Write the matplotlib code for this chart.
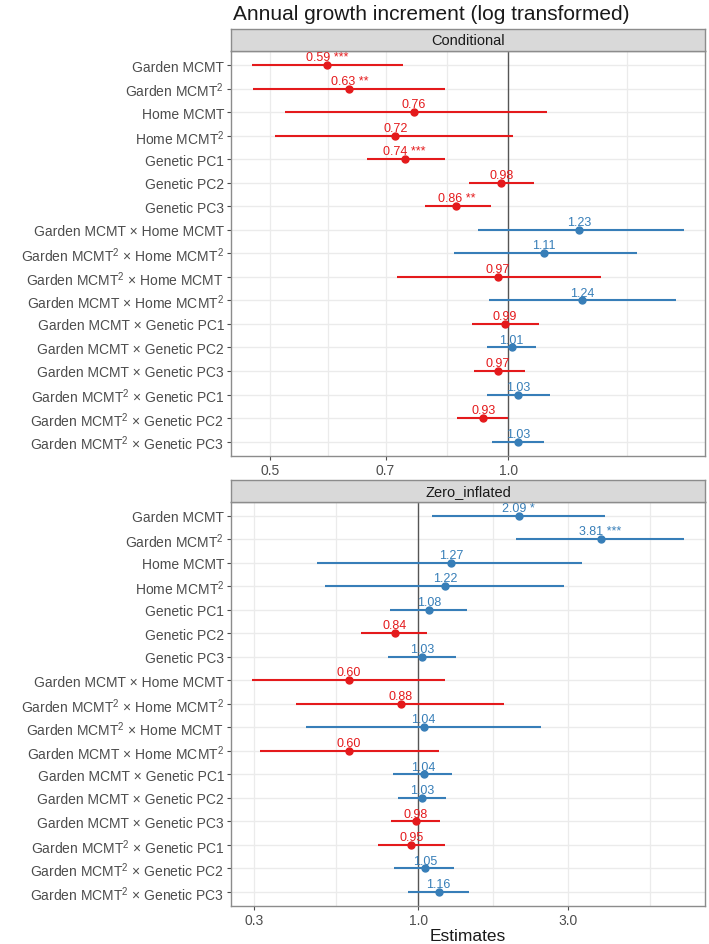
import matplotlib
matplotlib.use("Agg")
import matplotlib.pyplot as plt
from matplotlib.ticker import NullLocator

plt.rcParams['font.family'] = ['Liberation Sans', 'DejaVu Sans']
plt.rcParams['mathtext.fontset'] = 'custom'
plt.rcParams['mathtext.rm'] = 'Liberation Sans'
plt.rcParams['mathtext.it'] = 'Liberation Sans:italic'
plt.rcParams['mathtext.bf'] = 'Liberation Sans:bold'

terms = [
    "Garden MCMT",
    "Garden MCMT$^2$",
    "Home MCMT",
    "Home MCMT$^2$",
    "Genetic PC1",
    "Genetic PC2",
    "Genetic PC3",
    "Garden MCMT × Home MCMT",
    "Garden MCMT$^2$ × Home MCMT$^2$",
    "Garden MCMT$^2$ × Home MCMT",
    "Garden MCMT × Home MCMT$^2$",
    "Garden MCMT × Genetic PC1",
    "Garden MCMT × Genetic PC2",
    "Garden MCMT × Genetic PC3",
    "Garden MCMT$^2$ × Genetic PC1",
    "Garden MCMT$^2$ × Genetic PC2",
    "Garden MCMT$^2$ × Genetic PC3",
]

# Conditional model
cond_est = [0.59, 0.63, 0.76, 0.72, 0.74, 0.98, 0.86, 1.23, 1.11, 0.97, 1.24, 0.99, 1.01, 0.97, 1.03, 0.93, 1.03]
cond_lo = [0.475, 0.476, 0.522, 0.508, 0.663, 0.891, 0.786, 0.917, 0.855, 0.724, 0.945, 0.900, 0.940, 0.904, 0.941, 0.862, 0.953]
cond_hi = [0.736, 0.833, 1.120, 1.014, 0.832, 1.077, 0.950, 1.665, 1.454, 1.308, 1.627, 1.092, 1.085, 1.050, 1.130, 0.999, 1.109]
cond_stars = ["***", "**", "", "", "***", "", "**", "", "", "", "", "", "", "", "", "", ""]

# Zero-inflated model
zi_est = [2.09, 3.81, 1.27, 1.22, 1.08, 0.84, 1.03, 0.60, 0.88, 1.04, 0.60, 1.04, 1.03, 0.98, 0.95, 1.05, 1.16]
zi_lo = [1.106, 2.05, 0.476, 0.503, 0.810, 0.658, 0.800, 0.296, 0.409, 0.438, 0.312, 0.830, 0.863, 0.816, 0.742, 0.838, 0.925]
zi_hi = [3.93, 7.02, 3.33, 2.92, 1.427, 1.066, 1.316, 1.22, 1.876, 2.46, 1.164, 1.28, 1.228, 1.173, 1.216, 1.30, 1.454]
zi_stars = ["*", "***", "", "", "", "", "", "", "", "", "", "", "", "", "", "", ""]

RED = "#E41A1C"
BLUE = "#377EB8"
GRID = "#EBEBEB"
BORDER = "#8C8C8C"
TXT = "#4D4D4D"


def forest(ax, est, lo, hi, stars, xlim, ticks, ticklabels, grid):
    ax.set_xscale('log')
    ys = list(range(1, len(est) + 1))
    for g in grid:
        ax.axvline(g, color=GRID, lw=0.9, zorder=0)
    for y in ys:
        ax.axhline(y, color=GRID, lw=1.0, zorder=0)
    ax.axvline(1.0, color="#555555", lw=1.0, zorder=1)
    for y, e, l, h, s in zip(ys, est, lo, hi, stars):
        c = RED if e < 1 else BLUE
        ax.plot([l, h], [y, y], color=c, lw=1.5, solid_capstyle='butt', zorder=2)
        ax.plot([e], [y], 'o', color=c, ms=5, zorder=3)
        lab = "%.2f" % e
        if s:
            lab += " " + s
        ax.annotate(lab, (e, y), xytext=(0, 3.5), textcoords='offset points',
                    ha='center', va='baseline', color=c, fontsize=9)
    ax.set_xlim(*xlim)
    ax.set_ylim(len(est) + 0.6, 0.4)
    ax.set_yticks(ys)
    ax.set_yticklabels(terms, fontsize=10, color=TXT)
    ax.set_xticks(ticks)
    ax.set_xticklabels(ticklabels, fontsize=10, color=TXT)
    ax.xaxis.set_minor_locator(NullLocator())
    ax.tick_params(axis='both', length=3, color=TXT, pad=2)
    for sp in ax.spines.values():
        sp.set_color(BORDER)
        sp.set_linewidth(1.0)


def strip(fig, rect, label):
    sax = fig.add_axes(rect)
    sax.set_facecolor("#D9D9D9")
    sax.set_xticks([])
    sax.set_yticks([])
    for sp in sax.spines.values():
        sp.set_color(BORDER)
        sp.set_linewidth(1.0)
    sax.text(0.5, 0.5, label, ha='center', va='center', fontsize=10.5, color="#1A1A1A",
             transform=sax.transAxes)


fig = plt.figure(figsize=(7.09, 9.45), dpi=100)

left = 231 / 709
width = (705 - 231) / 709

ax1 = fig.add_axes([left, 1 - 456.7 / 945, width, (456.7 - 52) / 945])
forest(ax1, cond_est, cond_lo, cond_hi, cond_stars, (0.4465, 1.772),
       [0.5, 0.7, 1.0], ["0.5", "0.7", "1.0"],
       [0.5, 0.5916, 0.7, 0.8367, 1.414])
strip(fig, [left, 1 - 52 / 945, width, 22 / 945], "Conditional")

ax2 = fig.add_axes([left, 1 - 907 / 945, width, (907 - 502.7) / 945])
forest(ax2, zi_est, zi_lo, zi_hi, zi_stars, (0.253, 8.2),
       [0.3, 1.0, 3.0], ["0.3", "1.0", "3.0"],
       [0.3, 0.5477, 1.732, 3.0, 5.477])
strip(fig, [left, 1 - 502.7 / 945, width, 21.7 / 945], "Zero_inflated")
ax2.set_xlabel("Estimates", fontsize=12.5, color="#1A1A1A", labelpad=1)

fig.text(left + 2 / 709, 1 - 20 / 945, "Annual growth increment (log transformed)",
         ha='left', va='baseline', fontsize=15, color="#1A1A1A")

fig.savefig("out.png", dpi=100)
